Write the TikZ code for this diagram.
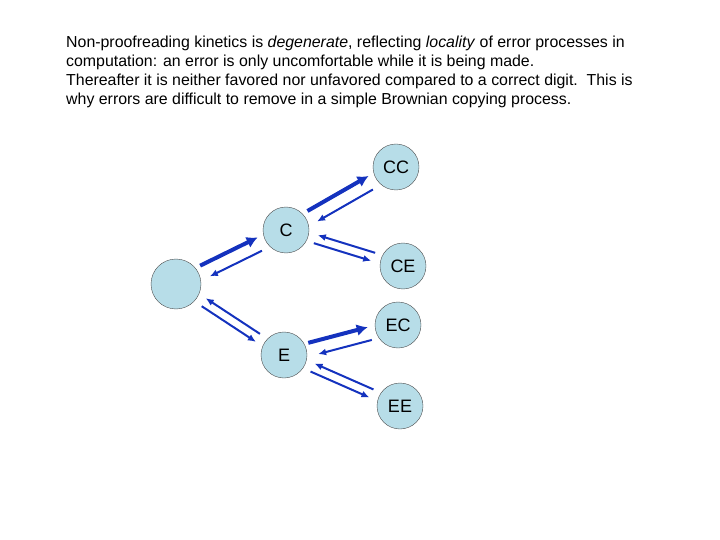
\documentclass[tikz,border=0pt]{standalone}
\usepackage{fontspec}
\setmainfont{Liberation Sans}
\usetikzlibrary{arrows.meta}
\definecolor{nodefill}{RGB}{183,221,232}
\definecolor{arrowblue}{RGB}{20,50,190}
\tikzstyle{state} = [circle,draw=black!70,fill=nodefill,minimum size=46pt,inner sep=0pt,font=\fontsize{18}{20}\selectfont]
\tikzstyle{fwd} = [draw=arrowblue,line width=4pt,-{Latex[length=11pt,width=12pt]},shorten <=5pt,shorten >=5pt]
\tikzstyle{bwd} = [draw=arrowblue,line width=2pt,-{Latex[length=8pt,width=7pt]},shorten <=8pt,shorten >=8pt]
\begin{document}
\begin{tikzpicture}[x=1pt,y=-1pt]
\useasboundingbox (0,0) rectangle (720,540);

\node[anchor=north west,align=left,font=\fontsize{15.9}{19}\selectfont,inner sep=0pt] (txt) at (66,36)
{Non-proofreading kinetics is \emph{degenerate}, reflecting \emph{locality} of error processes in\\
computation: an error is only uncomfortable while it is being made.\\
Thereafter it is neither favored nor unfavored compared to a correct digit.\ \ This is\\
why errors are difficult to remove in a simple Brownian copying process.};

\node[state,minimum width=50pt] (r) at (176,284) {};
\node[state] (c) at (286,230) {C};
\node[state] (e) at (284,355) {E};
\node[state] (cc) at (396,167) {CC};
\node[state] (ce) at (403,266) {CE};
\node[state] (ec) at (398,325) {EC};
\node[state] (ee) at (400,406) {EE};

% correct steps
\draw[fwd,transform canvas={shift={(-3,-5)}}] (r) -- (c);
\draw[bwd,transform canvas={shift={(4,7)}}] (c) -- (r);
\draw[fwd,transform canvas={shift={(-3,-5)}}] (c) -- (cc);
\draw[bwd,transform canvas={shift={(4,7)}}] (cc) -- (c);
\draw[fwd,transform canvas={shift={(-3,-5)}}] (e) -- (ec);
\draw[bwd,transform canvas={shift={(4,7)}}] (ec) -- (e);

% error steps
\draw[bwd,transform canvas={shift={(-2,4)}}] (r) -- (e);
\draw[bwd,transform canvas={shift={(2,-4)}}] (e) -- (r);
\draw[bwd,transform canvas={shift={(-2,4)}}] (c) -- (ce);
\draw[bwd,transform canvas={shift={(2,-4)}}] (ce) -- (c);
\draw[bwd,transform canvas={shift={(-2,4)}}] (e) -- (ee);
\draw[bwd,transform canvas={shift={(2,-4)}}] (ee) -- (e);
\end{tikzpicture}
\end{document}
